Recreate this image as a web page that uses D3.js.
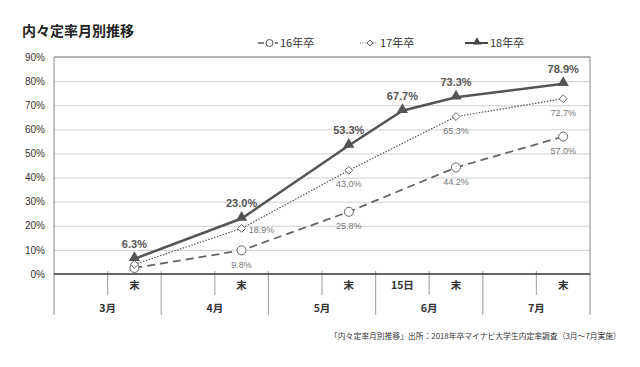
<!DOCTYPE html>
<html><head><meta charset="utf-8">
<script src="https://cdn.jsdelivr.net/npm/d3@7"></script>
<style>
body{margin:0;background:#fff;}
svg{display:block;font-family:"Liberation Sans","Noto Sans CJK JP",sans-serif;}
</style></head>
<body>
<svg id="c" width="640" height="367"></svg>
<script>
const slots = ["3月a","3月末","4月a","4月末","5月a","5月末","6月15日","6月末","7月a","7月末"];
const slotLabels = ["","末","","末","","末","15日","末","","末"];
const months = ["3月","4月","5月","6月","7月"];
const periods = ["3月末","4月末","5月末","6月15日","6月末","7月末"];
const s18 = [6.3, 23.0, 53.3, 67.7, 73.3, 78.9];
const s17 = [4.0, 18.9, 43.0, null, 65.3, 72.7];
const s16 = [2.5, 9.8, 25.8, null, 44.2, 57.0];
const yTicks = [0,10,20,30,40,50,60,70,80,90];
const seriesNames = ["16年卒","17年卒","18年卒"];
const title = "内々定率月別推移";
const footer = "「内々定率月別推移」出所：2018年卒マイナビ大学生内定率調査（3月～7月実施）";

const svg = d3.select("#c");
const L=54, R=590, T=57, B=274;
const x = d3.scaleBand().domain(slots).range([L,R]).padding(0);
const y = d3.scaleLinear().domain([0,90]).range([B,T]);
const cx = p => x(p) + x.bandwidth()/2;
const diamond = d3.symbolDiamond2 || d3.symbolDiamond;

// title
svg.append("text").attr("x",22).attr("y",36).attr("font-size",14).attr("font-weight","bold")
  .attr("fill","#222").attr("font-family","'Noto Sans CJK JP',sans-serif").text(title);

// gridlines
const grid = svg.append("g").attr("transform",`translate(${L},0)`)
  .call(d3.axisLeft(y).tickValues(yTicks.slice(1,-1)).tickSize(-(R-L)).tickFormat(""));
grid.select(".domain").remove();
grid.selectAll("line").attr("stroke","#cfcfcf").attr("stroke-width",1);

// y labels
const ya = svg.append("g").attr("transform",`translate(${L},0)`)
  .call(d3.axisLeft(y).tickValues(yTicks).tickSize(0).tickPadding(9).tickFormat(d=>d+"%"));
ya.select(".domain").remove();
ya.selectAll("text").attr("font-size",10).attr("fill","#333").attr("font-family","'Liberation Sans',sans-serif");

// borders
svg.append("line").attr("x1",L).attr("x2",R).attr("y1",y(90)).attr("y2",y(90)).attr("stroke","#999").attr("stroke-width",1.5);
svg.append("line").attr("x1",L).attr("x2",L).attr("y1",T).attr("y2",315).attr("stroke","#999").attr("stroke-width",1.2);
svg.append("line").attr("x1",R).attr("x2",R).attr("y1",T).attr("y2",315).attr("stroke","#999").attr("stroke-width",1.2);

// table vertical lines
slots.forEach((s,i)=>{
  if(i===0) return;
  const full = i%2===0;
  svg.append("line").attr("x1",x(s)).attr("x2",x(s)).attr("y1",271).attr("y2",full?315:295)
    .attr("stroke","#aaa").attr("stroke-width",1.2);
});

// 0 axis line
svg.append("line").attr("x1",L).attr("x2",R).attr("y1",y(0)).attr("y2",y(0)).attr("stroke","#333").attr("stroke-width",1.5);

// x sub labels
const xa = svg.append("g").attr("transform",`translate(0,${B})`)
  .call(d3.axisBottom(x).tickSize(0).tickPadding(8).tickFormat((d,i)=>slotLabels[i]));
xa.select(".domain").remove();
xa.selectAll("text").attr("font-size",10.5).attr("font-weight","bold").attr("fill","#333")
  .attr("font-family","'Noto Sans CJK JP',sans-serif");

// month labels
months.forEach((m,i)=>{
  const x0 = x(slots[i*2]);
  svg.append("text").attr("x",x0 + x.bandwidth()).attr("y",308).attr("dy","0.35em")
    .attr("text-anchor","middle").attr("font-size",10.5).attr("font-weight","bold").attr("fill","#333")
    .attr("font-family","'Noto Sans CJK JP',sans-serif").text(m);
});

function pts(vals){ return periods.map((p,i)=>({p, v:vals[i]})).filter(d=>d.v!=null); }
const line = d3.line().x(d=>cx(d.p)).y(d=>y(d.v));

const d16 = pts(s16), d17 = pts(s17), d18 = pts(s18);
svg.append("path").datum(d16).attr("d",line).attr("fill","none").attr("stroke","#666")
  .attr("stroke-width",1.8).attr("stroke-dasharray","8,5");
svg.append("path").datum(d17).attr("d",line).attr("fill","none").attr("stroke","#555")
  .attr("stroke-width",1.2).attr("stroke-dasharray","1.5,1.5");
svg.append("path").datum(d18).attr("d",line).attr("fill","none").attr("stroke","#555")
  .attr("stroke-width",2.5);

svg.selectAll(".m16").data(d16).enter().append("circle")
  .attr("cx",d=>cx(d.p)).attr("cy",d=>y(d.v)).attr("r",4.5)
  .attr("fill","#fff").attr("stroke","#666").attr("stroke-width",1);
svg.selectAll(".m17").data(d17).enter().append("path")
  .attr("transform",d=>`translate(${cx(d.p)},${y(d.v)})`)
  .attr("d",d3.symbol(diamond,40))
  .attr("fill","#fff").attr("stroke","#666").attr("stroke-width",1);
svg.selectAll(".m18").data(d18).enter().append("path")
  .attr("transform",d=>`translate(${cx(d.p)},${y(d.v)-1})`)
  .attr("d",d3.symbol(d3.symbolTriangle,55))
  .attr("fill","#555");

// data labels
svg.selectAll(".l18").data(d18).enter().append("text")
  .attr("x",d=>cx(d.p)).attr("y",d=>y(d.v)-15).attr("dy","0.35em").attr("text-anchor","middle")
  .attr("font-size",11).attr("font-weight","bold").attr("fill","#555").text(d=>d.v.toFixed(1)+"%");
svg.selectAll(".l17").data(d17.filter(d=>d.p!=="3月末")).enter().append("text")
  .attr("x",d=>d.p==="4月末"?cx(d.p)+20:cx(d.p))
  .attr("y",d=>d.p==="4月末"?y(d.v)+1:y(d.v)+14).attr("dy","0.35em").attr("text-anchor","middle")
  .attr("font-size",9).attr("fill","#777").text(d=>d.v.toFixed(1)+"%");
svg.selectAll(".l16").data(d16.filter(d=>d.p!=="3月末")).enter().append("text")
  .attr("x",d=>cx(d.p)).attr("y",d=>y(d.v)+14).attr("dy","0.35em").attr("text-anchor","middle")
  .attr("font-size",9).attr("fill","#777").text(d=>d.v.toFixed(1)+"%");

// legend
const lg = svg.append("g");
const LY = 43;
lg.append("line").attr("x1",258).attr("x2",264).attr("y1",LY).attr("y2",LY).attr("stroke","#555").attr("stroke-width",1.5);
lg.append("circle").attr("cx",269.5).attr("cy",LY).attr("r",3.5).attr("fill","#fff").attr("stroke","#555");
lg.append("line").attr("x1",275).attr("x2",278).attr("y1",LY).attr("y2",LY).attr("stroke","#555").attr("stroke-width",1.5);
lg.append("text").attr("x",280).attr("y",LY).attr("dy","0.35em").attr("font-size",11).attr("fill","#333")
  .attr("font-family","'Noto Sans CJK JP',sans-serif").text(seriesNames[0]);
lg.append("line").attr("x1",360).attr("x2",367).attr("y1",LY).attr("y2",LY).attr("stroke","#555").attr("stroke-dasharray","1,1.2");
lg.append("path").attr("transform",`translate(370,${LY})`).attr("d",d3.symbol(diamond,22)).attr("fill","#fff").attr("stroke","#555");
lg.append("line").attr("x1",373).attr("x2",377).attr("y1",LY).attr("y2",LY).attr("stroke","#555").attr("stroke-dasharray","1,1.2");
lg.append("text").attr("x",380).attr("y",LY).attr("dy","0.35em").attr("font-size",11).attr("fill","#333")
  .attr("font-family","'Noto Sans CJK JP',sans-serif").text(seriesNames[1]);
lg.append("line").attr("x1",465).attr("x2",488).attr("y1",LY).attr("y2",LY).attr("stroke","#444").attr("stroke-width",2);
lg.append("path").attr("transform",`translate(477,${LY-1})`).attr("d",d3.symbol(d3.symbolTriangle,30)).attr("fill","#444");
lg.append("text").attr("x",490).attr("y",LY).attr("dy","0.35em").attr("font-size",11).attr("fill","#333")
  .attr("font-family","'Noto Sans CJK JP',sans-serif").text(seriesNames[2]);

// footer
svg.append("text").attr("x",330).attr("y",336).attr("dy","0.35em").attr("font-size",7.8).attr("fill","#333")
  .attr("font-family","'Noto Sans CJK JP',sans-serif").text(footer);
</script>
</body></html>
